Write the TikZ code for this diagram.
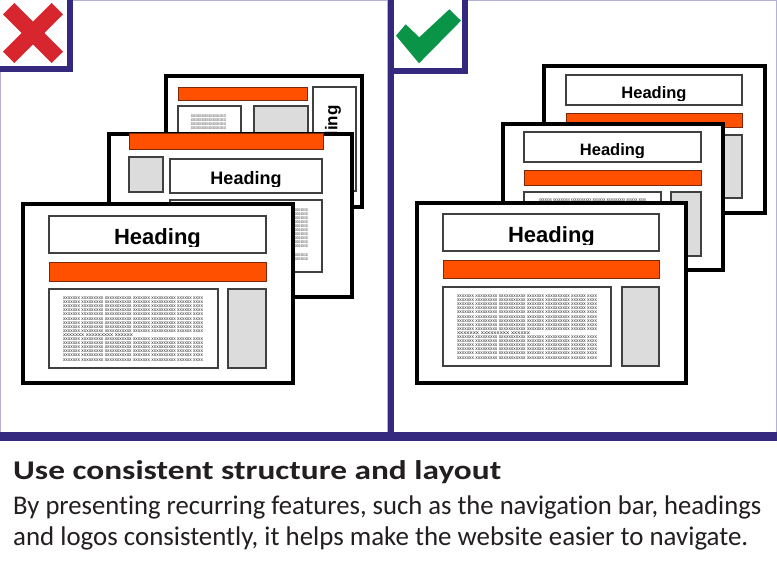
\documentclass[tikz,border=0pt]{standalone}
\usepackage{fontspec}
\setmainfont{Liberation Sans}
\newfontfamily\capfont[Ligatures=NoCommon]{Carlito}
\usepackage{graphicx}
\definecolor{framedark}{HTML}{35297F}
\definecolor{framelight}{HTML}{B4B0DC}
\definecolor{navorange}{HTML}{FF5000}
\definecolor{navedge}{HTML}{7A2A0A}
\definecolor{sidegray}{HTML}{DCDCDC}
\definecolor{xred}{HTML}{D7262E}
\definecolor{okgreen}{HTML}{0A9447}
\definecolor{captext}{HTML}{231F20}
\tikzset{
  page/.style={draw=black, line width=4pt, fill=white},
  hbox/.style={draw=black!75, line width=1.2pt, fill=white},
  navbar/.style={draw=navedge, line width=0.8pt, fill=navorange},
  sidebox/.style={draw=black!75, line width=1.2pt, fill=sidegray},
  tbox/.style={draw=black!75, line width=1.2pt, fill=white},
  thickframe/.style={draw=framedark, line width=6pt},
  thinframe/.style={draw=framelight, line width=1pt},
  xrow/.style={anchor=base west, inner sep=0pt, outer sep=0pt, text=black!85},
  headfont/.style={anchor=base, inner sep=0pt, font=\bfseries\fontsize{#1}{#1}\selectfont},
  captxt/.style={anchor=base west, inner sep=0pt, text=captext},
}
% style, name, x1, y1, x2, y2
\newcommand{\rbox}[6]{%
  \node[#1, shape=rectangle, inner sep=0pt, outer sep=0pt, anchor=north west,
        minimum width={(#5)-(#3)}, minimum height={(#6)-(#4)}] (#2) at (#3,#4) {};}
% name, cx, baseline, size
\newcommand{\headtext}[4]{%
  \begin{scope}
    \clip (#2-120,#3-40) rectangle (#2+120,#3+2.2);
    \node[headfont=#4] (#1) at (#2,#3) {Heading};
  \end{scope}}
\newcommand{\xlong}{xxxxxxx xxxxxxxxx xxxxxxxxxxx xxxxxxx xxxxxxxxxx xxxxxx xxxx}
\newcommand{\xshort}{xxxxxxx xxxxxxxxx xxxxxx}
% prefix, x, first baseline, width, rows, short row, short width
\newcommand{\xrows}[7]{%
  \foreach \i in {1,...,#5}{%
    \pgfmathsetmacro\yy{#3+(\i-1)*4.1}%
    \ifnum\i=#6\relax
      \node[xrow] (#1-\i) at (#2,\yy) {\resizebox{#7pt}{2.7pt}{\xshort}};
    \else
      \node[xrow] (#1-\i) at (#2,\yy) {\resizebox{#4pt}{2.7pt}{\xlong}};
    \fi}}
\begin{document}
\begin{tikzpicture}[x=1pt,y=-1pt]
\useasboundingbox (0,0) rectangle (777,562);
\fill[white] (0,0) rectangle (777,562);

% ---------- frames ----------
\draw[thinframe] (0.5,440) -- (0.5,69);
\draw[thinframe] (70,0.5) -- (388,0.5);
\draw[thinframe] (387.5,0) -- (387.5,434);
\draw[thinframe] (465,0.5) -- (777,0.5);
\draw[thinframe] (776.5,0) -- (776.5,434);
\draw[thickframe] (70,0) -- (70,69) -- (0,69);
\draw[thickframe] (391,0) -- (391,436);
\draw[thickframe] (391,71) -- (465,71) -- (465,0);
\fill[framedark] (0,432) rectangle (777,441);

% ---------- marks ----------
\draw[xred, line width=16pt] (8.7,8.7) -- (57.3,57.3);
\draw[xred, line width=16pt] (8.7,57.3) -- (57.3,8.7);
\fill[okgreen] (405.7,24.3) -- (419.3,37.3) -- (449.3,9.3) -- (461,20.7) -- (419,63.3) -- (396,35.7) -- cycle;

% ---------- left panel: inconsistent ----------
% back page
\rbox{page}{l1}{166}{76}{362}{207}
\rbox{navbar}{l1nav}{178}{87}{307}{100}
\rbox{tbox}{l1text}{178}{106}{241}{160}
\xrows{l1x}{191}{117}{35}{4}{0}{20}
\rbox{sidebox}{l1side}{254}{106}{308}{160}
\rbox{hbox}{l1head}{313}{87}{356}{191}
\node[headfont=17, rotate=90, anchor=center] (l1htext) at (333,139) {Heading};
% middle page
\rbox{page}{l2}{109}{134}{352}{297}
\rbox{navbar}{l2nav}{129}{133}{323}{149}
\rbox{sidebox}{l2logo}{129}{157}{163}{192}
\rbox{hbox}{l2head}{170}{159}{322}{193}
\headtext{l2htext}{246}{184}{18}
\rbox{tbox}{l2text}{170}{200}{322}{272}
\xrows{l2x}{270}{211}{38}{13}{11}{18}
% front page
\rbox{page}{l3}{23}{204}{293}{383}
\rbox{hbox}{l3head}{49}{216}{266}{253}
\headtext{l3htext}{157.5}{244}{22}
\rbox{navbar}{l3nav}{49}{262}{266}{281}
\rbox{tbox}{l3text}{49}{289}{218}{368}
\xrows{l3x}{63}{299.5}{140}{16}{10}{70}
\rbox{sidebox}{l3side}{228}{289}{266}{368}

% ---------- right panel: consistent ----------
% back page
\rbox{page}{r1}{544}{66}{765}{213}
\rbox{hbox}{r1head}{566}{75}{742}{105}
\headtext{r1htext}{654}{98}{16.5}
\rbox{navbar}{r1nav}{566}{113}{742}{127}
\rbox{tbox}{r1text}{566}{135}{690}{198}
\rbox{sidebox}{r1side}{700}{135}{742}{198}
% middle page
\rbox{page}{r2}{503}{124}{723}{270}
\rbox{hbox}{r2head}{524}{132}{701}{162}
\headtext{r2htext}{612.5}{155}{16.5}
\rbox{navbar}{r2nav}{524}{170}{701}{185}
\rbox{tbox}{r2text}{524}{192}{661}{256}
\xrows{r2x}{539}{201.5}{107}{1}{0}{55}
\rbox{sidebox}{r2side}{671}{192}{701}{256}
% front page
\rbox{page}{r3}{417}{203}{686}{383}
\rbox{hbox}{r3head}{443}{214}{659}{251}
\headtext{r3htext}{551.5}{242}{22}
\rbox{navbar}{r3nav}{443}{260}{659}{278}
\rbox{tbox}{r3text}{443}{287}{611}{366}
\xrows{r3x}{457}{297.5}{140}{16}{10}{73}
\rbox{sidebox}{r3side}{622}{287}{659}{366}

% ---------- caption ----------
\node[captxt, font=\capfont\bfseries\fontsize{27}{27}\selectfont] (title) at (13,479)
  {\resizebox{488pt}{\height}{Use consistent structure and layout}};
\node[captxt, font=\capfont\fontsize{27}{27}\selectfont] (line1) at (13,514)
  {\resizebox{748pt}{\height}{By presenting recurring features, such as the navigation bar, headings}};
\node[captxt, font=\capfont\fontsize{27}{27}\selectfont] (line2) at (13,545)
  {\resizebox{735pt}{\height}{and logos consistently, it helps make the website easier to navigate.}};
\end{tikzpicture}
\end{document}
